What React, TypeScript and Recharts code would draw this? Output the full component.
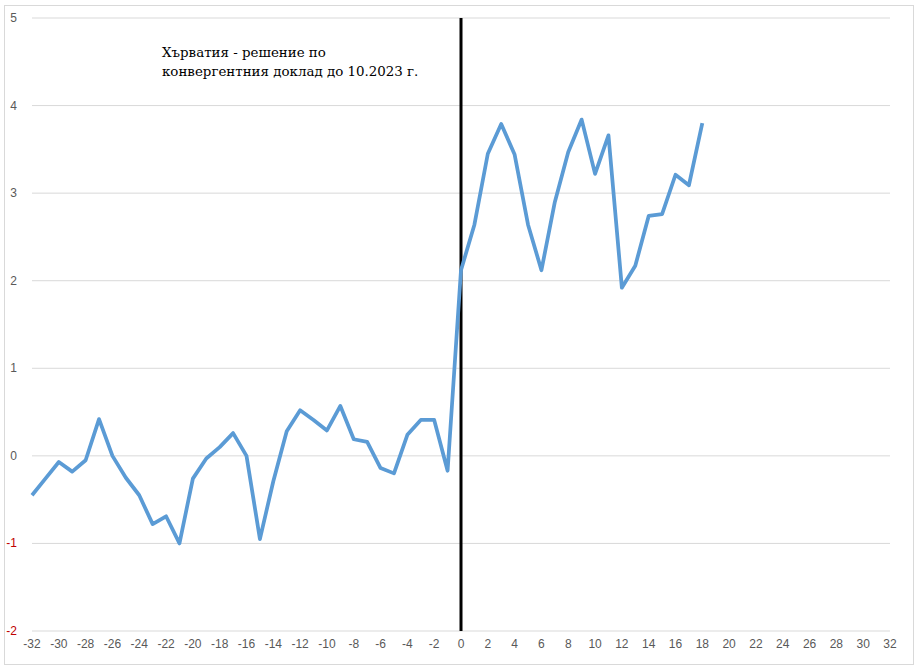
import React from 'react'
import { LineChart, Line, XAxis, YAxis, CartesianGrid, ReferenceLine } from 'recharts'

// months relative to the decision (0 = convergence report)
const months = [
  -32, -31, -30, -29, -28, -27, -26, -25, -24, -23, -22, -21, -20, -19, -18, -17, -16,
  -15, -14, -13, -12, -11, -10, -9, -8, -7, -6, -5, -4, -3, -2, -1,
  0, 1, 2, 3, 4, 5, 6, 7, 8, 9, 10, 11, 12, 13, 14, 15, 16, 17, 18,
]
const values = [
  -0.45, -0.26, -0.07, -0.18, -0.05, 0.42, 0.0, -0.25, -0.45, -0.78, -0.69, -1.0, -0.26, -0.03, 0.1, 0.26, 0.0,
  -0.95, -0.29, 0.28, 0.52, 0.41, 0.29, 0.57, 0.19, 0.16, -0.14, -0.2, 0.24, 0.41, 0.41, -0.17,
  2.12, 2.64, 3.45, 3.79, 3.44, 2.64, 2.12, 2.9, 3.47, 3.84, 3.22, 3.66, 1.92, 2.17, 2.74, 2.76, 3.21, 3.09, 3.8,
]
const xTicks = [-32, -30, -28, -26, -24, -22, -20, -18, -16, -14, -12, -10, -8, -6, -4, -2, 0, 2, 4, 6, 8, 10, 12, 14, 16, 18, 20, 22, 24, 26, 28, 30, 32]
const yTicks = [-2, -1, 0, 1, 2, 3, 4, 5]
const note = ['Хърватия - решение по', 'конвергентния доклад до 10.2023 г.']

const data = months.map((m, i) => ({ m, v: values[i] }))

const YTick = (props: any) => {
  const { y, payload } = props
  return (
    <text x={17} y={y} dy={4} textAnchor="end" fontSize={12} fontFamily="Liberation Sans, Arial, sans-serif"
      fill={payload.value < 0 ? '#c00000' : '#595959'}>
      {payload.value}
    </text>
  )
}

const App = () => {
  return (
    <div style={{ position: 'absolute', left: 0, top: 0, width: 918, height: 671, background: '#fff' }}>
      <div style={{ position: 'absolute', left: 4, top: 5, width: 908, height: 658, border: '1px solid #d9d9d9' }} />
      <LineChart width={918} height={671} data={data} margin={{ top: 18, right: 28, left: 0, bottom: 15 }}>
        <CartesianGrid vertical={false} stroke="#d9d9d9" />
        <XAxis dataKey="m" type="number" domain={[-32, 32]} ticks={xTicks} interval={0}
          axisLine={false} tickLine={false} height={25}
          tick={{ fill: '#595959', fontSize: 12, fontFamily: 'Liberation Sans, Arial, sans-serif' }} />
        <YAxis type="number" domain={[-2, 5]} ticks={yTicks} width={32} axisLine={false} tickLine={false} tick={<YTick />} />
        <ReferenceLine x={0} stroke="#000" strokeWidth={3} />
        <Line dataKey="v" stroke="#5b9bd5" strokeWidth={3.75} dot={false} isAnimationActive={false} strokeLinejoin="round" />
      </LineChart>
      <div style={{ position: 'absolute', left: 162, top: 43, fontFamily: 'DejaVu Serif, serif', fontSize: 13.4, lineHeight: '19px', color: '#000' }}>
        {note.map((t) => <div key={t}>{t}</div>)}
      </div>
    </div>
  )
}

export default App
